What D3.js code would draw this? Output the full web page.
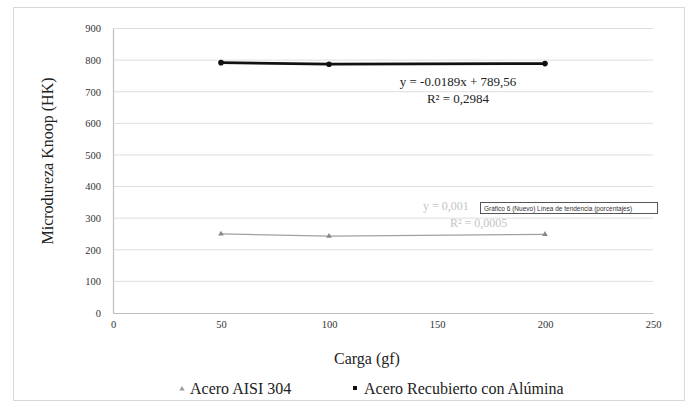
<!DOCTYPE html>
<html>
<head>
<meta charset="utf-8">
<script src="https://cdn.jsdelivr.net/npm/d3@7"></script>
<style>
  body { margin: 0; background: #fff; }
  svg text { font-family: "Liberation Serif", "DejaVu Serif", serif; }
  svg text.tip { font-family: "Liberation Sans", sans-serif; }
</style>
</head>
<body>
<svg id="chart" width="693" height="403"></svg>
<script>
// data
var cargas = [50, 100, 200];
var aisi304 = [250, 243, 249];
var recubierto = [792, 787, 789];
var xTicks = [0, 50, 100, 150, 200, 250];
var yTicks = [0, 100, 200, 300, 400, 500, 600, 700, 800, 900];
var series = ['Acero AISI 304', 'Acero Recubierto con Alúmina'];

var svg = d3.select('#chart');

// chart frame
svg.append('rect')
  .attr('x', 13.5).attr('y', 7.5)
  .attr('width', 671).attr('height', 393)
  .attr('fill', '#fff')
  .attr('stroke', '#d9d9d9');

var x = d3.scaleLinear().domain([0, 250]).range([113, 653]);
var y = d3.scaleLinear().domain([0, 900]).range([313, 28.5]);

// gridlines
svg.append('g')
  .selectAll('line')
  .data(yTicks.slice(1))
  .enter().append('line')
  .attr('x1', x(0)).attr('x2', x(250))
  .attr('y1', function(d){ return y(d); })
  .attr('y2', function(d){ return y(d); })
  .attr('stroke', '#dedede')
  .attr('stroke-width', 1);

// axes
var xAxis = svg.append('g')
  .attr('transform', 'translate(0,' + y(0) + ')')
  .call(d3.axisBottom(x).tickValues(xTicks).tickSize(0).tickPadding(8));
var yAxis = svg.append('g')
  .attr('transform', 'translate(' + x(0) + ',0)')
  .call(d3.axisLeft(y).tickValues(yTicks).tickSize(0).tickPadding(12));

[xAxis, yAxis].forEach(function(a){
  a.attr('font-family', null).attr('font-size', 10.5);
  a.select('.domain').attr('stroke', '#bfbfbf').attr('stroke-width', 1.2);
  a.selectAll('text').attr('fill', '#333');
});

// axis titles
svg.append('text')
  .attr('x', 367).attr('y', 364)
  .attr('text-anchor', 'middle')
  .attr('font-size', 16)
  .attr('fill', '#222')
  .text('Carga (gf)');

svg.append('text')
  .attr('transform', 'translate(53,161) rotate(-90)')
  .attr('text-anchor', 'middle')
  .attr('font-size', 16)
  .attr('fill', '#222')
  .text('Microdureza Knoop (HK)');

var line = d3.line()
  .x(function(d, i){ return x(cargas[i]); })
  .y(function(d){ return y(d); });

// Acero AISI 304
svg.append('path')
  .datum(aisi304)
  .attr('d', line)
  .attr('fill', 'none')
  .attr('stroke', '#a0a0a0')
  .attr('stroke-width', 1.2);

svg.append('g')
  .selectAll('path')
  .data(aisi304)
  .enter().append('path')
  .attr('d', d3.symbol().type(d3.symbolTriangle).size(14))
  .attr('transform', function(d, i){ return 'translate(' + x(cargas[i]) + ',' + y(d) + ')'; })
  .attr('fill', '#888');

// Acero Recubierto con Alumina
svg.append('path')
  .datum(recubierto)
  .attr('d', line)
  .attr('fill', 'none')
  .attr('stroke', '#111')
  .attr('stroke-width', 2.8);

svg.append('g')
  .selectAll('circle')
  .data(recubierto)
  .enter().append('circle')
  .attr('cx', function(d, i){ return x(cargas[i]); })
  .attr('cy', function(d){ return y(d); })
  .attr('r', 2.8)
  .attr('fill', '#111');

// trendline labels
svg.append('text')
  .attr('x', 458).attr('y', 86)
  .attr('text-anchor', 'middle')
  .attr('font-size', 13)
  .attr('fill', '#222')
  .text('y = -0.0189x + 789,56');
svg.append('text')
  .attr('x', 458).attr('y', 103)
  .attr('text-anchor', 'middle')
  .attr('font-size', 13)
  .attr('fill', '#222')
  .text('R² = 0,2984');

svg.append('text')
  .attr('x', 423).attr('y', 210)
  .attr('font-size', 12)
  .attr('fill', '#c4c4c4')
  .text('y = 0,001');
svg.append('text')
  .attr('x', 450).attr('y', 227)
  .attr('font-size', 12)
  .attr('fill', '#c4c4c4')
  .text('R² = 0,0005');

// tooltip box over the trendline
svg.append('rect')
  .attr('x', 480.5).attr('y', 202.5)
  .attr('width', 177).attr('height', 11)
  .attr('fill', '#fff')
  .attr('stroke', '#555')
  .attr('stroke-width', 1);
svg.append('text')
  .attr('class', 'tip')
  .attr('x', 484).attr('y', 211)
  .attr('font-size', 6.5)
  .attr('fill', '#333')
  .text('Gráfico 6 (Nuevo) Línea de tendencia (porcentajes)');

// legend
var legend = svg.append('g');
legend.append('path')
  .attr('d', d3.symbol().type(d3.symbolTriangle).size(12))
  .attr('transform', 'translate(182,389)')
  .attr('fill', '#999');
legend.append('text')
  .attr('x', 190).attr('y', 394)
  .attr('font-size', 16)
  .attr('fill', '#222')
  .text(series[0]);
legend.append('rect')
  .attr('x', 353).attr('y', 386)
  .attr('width', 4).attr('height', 4)
  .attr('fill', '#111');
legend.append('text')
  .attr('x', 364).attr('y', 394)
  .attr('font-size', 16)
  .attr('fill', '#222')
  .text(series[1]);
</script>
</body>
</html>
